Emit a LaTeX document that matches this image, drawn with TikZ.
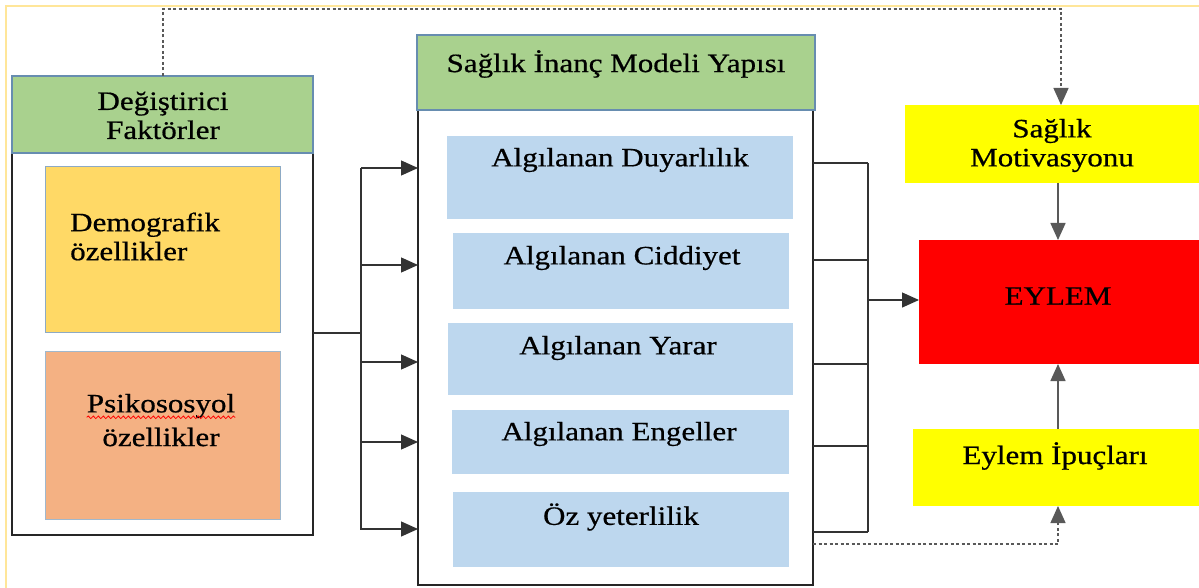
\documentclass[tikz,border=0pt]{standalone}
\usepackage{fontspec}
\setmainfont{Liberation Serif}[FakeStretch=1.17,FakeBold=0.6]
\usetikzlibrary{arrows.meta,fit,decorations.pathmorphing,calc}
\definecolor{hdrgreen}{HTML}{A9D18E}
\definecolor{demoyellow}{HTML}{FFD966}
\definecolor{psiorange}{HTML}{F4B183}
\definecolor{lightblue}{HTML}{BDD7EE}
\definecolor{brightyellow}{HTML}{FFFF00}
\definecolor{brightred}{HTML}{FF0000}
\definecolor{edgeblue}{HTML}{41719C}
\definecolor{outerframe}{HTML}{FFE699}
\begin{document}
\begin{tikzpicture}[x=1pt,y=-1pt,
  font=\fontsize{26.5}{29}\selectfont,
  boxbase/.style={inner sep=0pt, outer sep=0pt},
  header/.style={boxbase, fill=hdrgreen, draw=edgeblue!80, line width=1.2pt},
  container/.style={boxbase, draw=black!85, line width=2.4pt},
  demobox/.style={boxbase, fill=demoyellow, draw=edgeblue!60, line width=0.8pt},
  psibox/.style={boxbase, fill=psiorange, draw=edgeblue!50, line width=0.8pt},
  bluebox/.style={boxbase, fill=lightblue},
  yellowbox/.style={boxbase, fill=brightyellow},
  redbox/.style={boxbase, fill=brightred},
  txt/.style={inner sep=0pt, text=black},
  conn/.style={draw=black!80, line width=1.3pt},
  arr/.style={-{Triangle[length=17pt,width=15pt]}},
  dashline/.style={draw=black!65, line width=1.3pt, dash pattern=on 3pt off 2.5pt},
  grayconn/.style={draw=black!65, line width=1.5pt}
]
\useasboundingbox (0,0) rectangle (1199,588);

% outer light frame
\draw[outerframe, line width=1.5pt] (6,600) -- (6,6) -- (1210,6);

% left column
\node[container, fit={(12,153) (313,535)}] (lcont) {};
\node[header, fit={(12,76) (313,153)}] (lhdr) {};
\node[txt, align=center] (lhdrt) at (163,115.5) {Değiştirici\\Faktörler};
\node[demobox, fit={(45,166) (280,332)}] (demo) {};
\node[txt, align=left, anchor=west] (demot) at (70,236.5) {Demografik\\özellikler};
\node[psibox, fit={(45,351) (280,519)}] (psi) {};
\node[txt] (ps1) at (161,406) {Psikososyol};
\node[txt] (ps2) at (161,437) {özellikler};
\draw[red, line width=0.8pt, decorate, decoration={snake, amplitude=1.3pt, segment length=5pt}]
  ($(ps1.base west)+(0,5)$) -- ($(ps1.base east)+(0,5)$);

% middle column
\node[container, fit={(418,110) (813,585)}] (mcont) {};
\node[header, fit={(417,35) (815,110)}] (mhdr) {};
\node[txt] (mhdrt) at (616,64) {Sağlık İnanç Modeli Yapısı};
\node[bluebox, fit={(447,136) (793,219)}] (b1) {};
\node[txt] (b1t) at (620,160) {Algılanan Duyarlılık};
\node[bluebox, fit={(453,233) (789,309)}] (b2) {};
\node[txt] (b2t) at (622,258) {Algılanan Ciddiyet};
\node[bluebox, fit={(448,323) (793,395)}] (b3) {};
\node[txt] (b3t) at (618,348) {Algılanan Yarar};
\node[bluebox, fit={(452,410) (789,474)}] (b4) {};
\node[txt] (b4t) at (619,434) {Algılanan Engeller};
\node[bluebox, fit={(453,492) (789,567)}] (b5) {};
\node[txt] (b5t) at (621,517) {Öz yeterlilik};

% right column
\node[yellowbox, fit={(905,105) (1199,183)}] (mot) {};
\node[txt, align=center] (mott) at (1052,145.5) {Sağlık\\Motivasyonu};
\node[redbox, fit={(919,240) (1199,364)}] (eylem) {};
\node[txt] (eylemt) at (1058,296) {EYLEM};
\node[yellowbox, fit={(913,429) (1199,506)}] (ipu) {};
\node[txt] (iput) at (1055,456) {Eylem İpuçları};

% left bus
\coordinate (lbus) at (361,333);
\coordinate (lbt) at (361,168);
\coordinate (lbb) at (361,530);
\draw[conn] (lcont.east |- lbus) -- (lbus);
\draw[conn] (lbt) -- (lbb);
\foreach \yy [count=\i] in {168,265,362,442,529}{
  \coordinate (la\i) at (361,\yy);
  \draw[conn, arr] (la\i) -- (mcont.west |- la\i);
}

% right bus
\coordinate (rbt) at (868,163);
\coordinate (rbb) at (868,532);
\draw[conn] (rbt) -- (rbb);
\foreach \yy [count=\i] in {163,260,364,446,532}{
  \coordinate (ra\i) at (868,\yy);
  \draw[conn] (mcont.east |- ra\i) -- (ra\i);
}
\coordinate (rmid) at (868,300);
\draw[conn, arr] (rmid) -- (eylem.west |- rmid);

% vertical arrows to EYLEM
\coordinate (vx) at (1058,0);
\draw[grayconn, arr] (mot.south -| vx) -- (eylem.north -| vx);
\draw[grayconn, arr] (ipu.north -| vx) -- (eylem.south -| vx);

% dashed feedback lines
\coordinate (dt1) at (163,9);
\coordinate (dt2) at (1061,9);
\draw[dashline, arr] (lhdr.north -| dt1) -- (dt1) -- (dt2) -- (mot.north -| dt2);
\coordinate (db1) at (1058,544);
\draw[dashline, arr] (mcont.east |- db1) -- (db1) -- (ipu.south -| db1);
\end{tikzpicture}
\end{document}
